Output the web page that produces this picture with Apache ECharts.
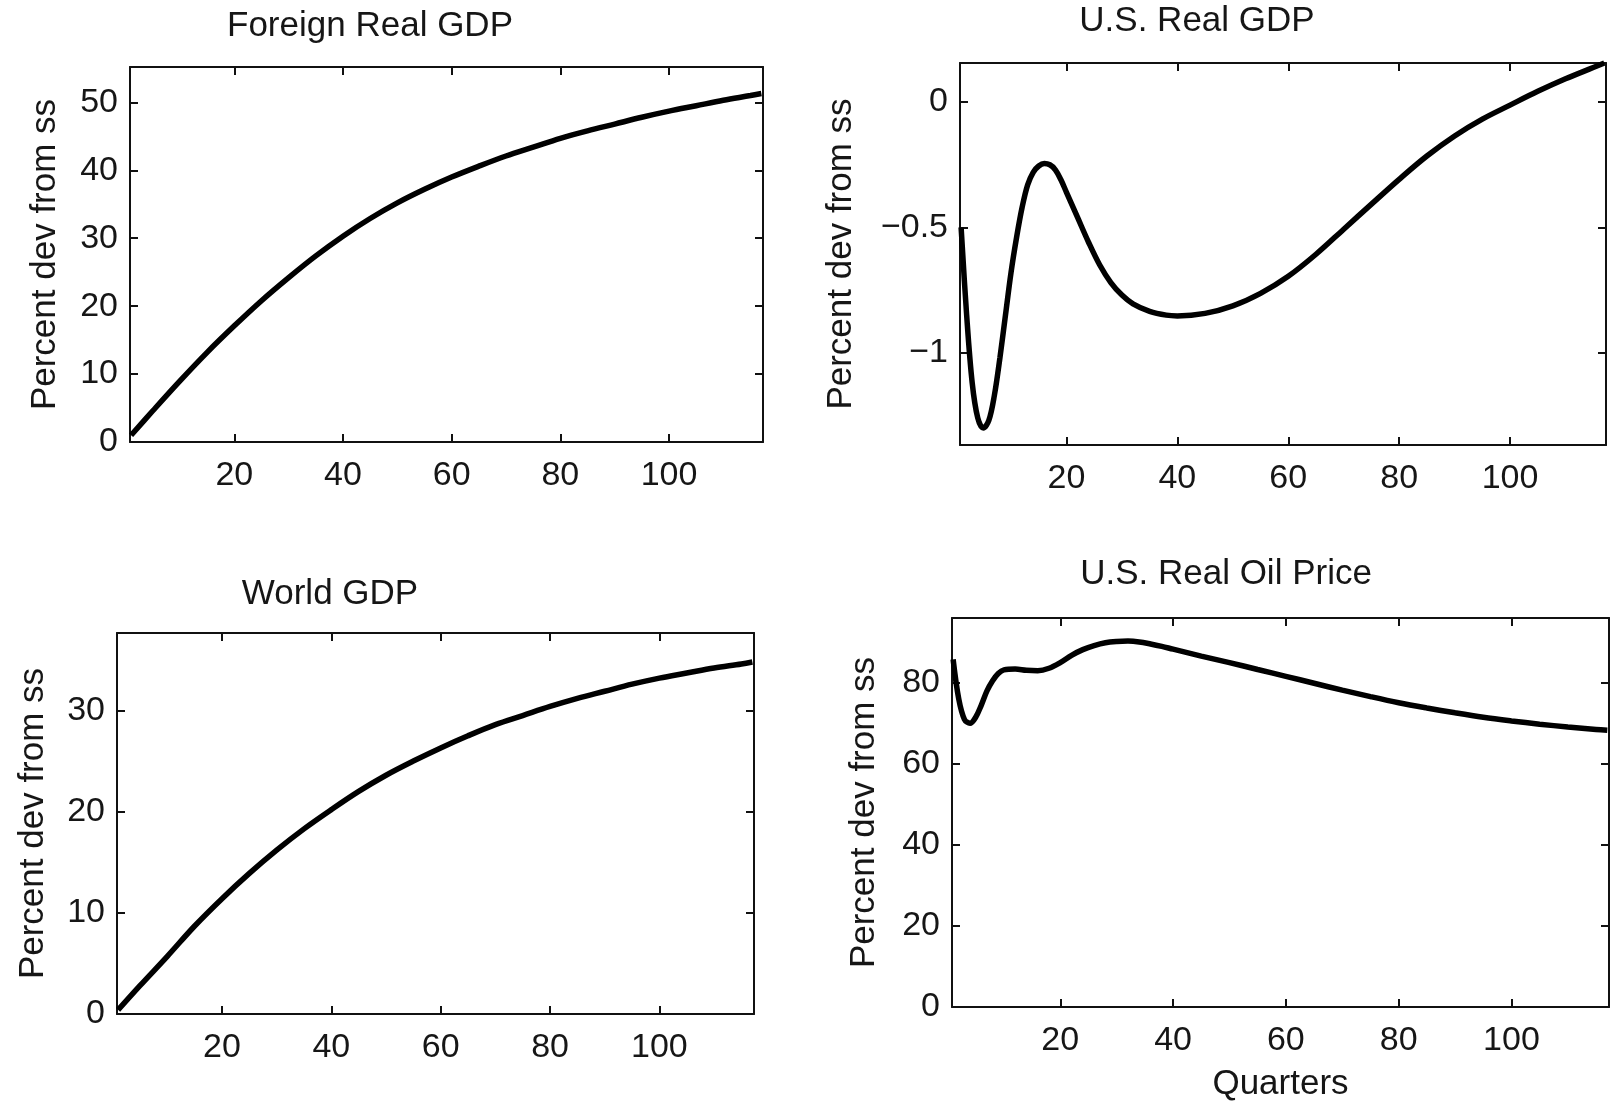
<!DOCTYPE html>
<html>
<head>
<meta charset="utf-8">
<script src="https://cdn.jsdelivr.net/npm/echarts@6/dist/echarts.min.js"></script>
<style>
html,body{margin:0;padding:0;background:#fff;}
#chart{width:1614px;height:1108px;}
</style>
</head>
<body>
<div id="chart"></div>
<script>
// ---- data (quarters, percent deviation from steady state) ----
const foreignX = [1,5,10,15,20,25,30,35,40,45,50,55,60,65,70,75,80,85,90,95,100,105,110,115,117];
const foreignY = [1,4.6,9.0,13.2,17.1,20.8,24.2,27.4,30.3,32.9,35.2,37.2,39.0,40.6,42.1,43.4,44.7,45.8,46.8,47.8,48.7,49.5,50.3,51.0,51.3];

const usGdpX = [1,2,3,4,5,6,7,8,9,10,11,12,13,14,15,16,17,18,19,20,22,24,26,28,30,32,35,38,40,45,50,55,60,65,70,75,80,85,90,95,100,105,110,115,117];
const usGdpY = [-0.5,-0.85,-1.12,-1.26,-1.30,-1.27,-1.17,-1.02,-0.85,-0.68,-0.54,-0.42,-0.33,-0.28,-0.255,-0.245,-0.25,-0.27,-0.31,-0.36,-0.46,-0.56,-0.65,-0.72,-0.77,-0.805,-0.835,-0.85,-0.853,-0.843,-0.813,-0.763,-0.695,-0.607,-0.507,-0.407,-0.308,-0.215,-0.135,-0.068,-0.012,0.043,0.093,0.138,0.156];

const worldX = [1,5,10,15,20,25,30,35,40,45,50,55,60,65,70,75,80,85,90,95,100,105,110,115,117];
const worldY = [0.4,2.8,5.7,8.7,11.4,13.9,16.2,18.3,20.2,22.0,23.6,25.0,26.3,27.5,28.6,29.5,30.4,31.2,31.9,32.6,33.2,33.7,34.2,34.6,34.8];

const oilX = [1,2,3,4,5,6,7,8,9,10,12,14,16,18,20,22,24,26,28,30,32,34,36,38,40,45,50,55,60,65,70,75,80,85,90,95,100,105,110,115,117];
const oilY = [85.8,76,71,70,71.5,74.5,78,80.5,82.3,83.2,83.4,83.1,83,83.6,85,86.8,88.2,89.2,89.9,90.2,90.3,90.1,89.6,89,88.3,86.6,85,83.3,81.6,79.9,78.2,76.6,75.1,73.8,72.6,71.5,70.6,69.8,69.1,68.5,68.3];

const xTicks = [20,40,60,80,100];
const foreignTicks = [0,10,20,30,40,50];
const usGdpTicks = [-1,-0.5,0];
const worldTicks = [0,10,20,30];
const oilTicks = [0,20,40,60,80];

const titles = ['Foreign Real GDP','U.S. Real GDP','World GDP','U.S. Real Oil Price'];
const yName = 'Percent dev from ss';
const xName = 'Quarters';

// ---- layout ----
const FONT = 'Liberation Sans, Arial, Helvetica, sans-serif';
const TXT = '#161616';
const panels = [
  {grid:{left:130, top:67, width:633, height:375}, ymin:0, ymax:55.2, yt:foreignTicks, xs:foreignX, ys:foreignY, gap:67, title:[370,26]},
  {grid:{left:960, top:63, width:646, height:382}, ymin:-1.368, ymax:0.156, yt:usGdpTicks, xs:usGdpX, ys:usGdpY, gap:101, title:[1197,21]},
  {grid:{left:117, top:633, width:637, height:381}, ymin:0, ymax:37.66, yt:worldTicks, xs:worldX, ys:worldY, gap:66, title:[330,594]},
  {grid:{left:952, top:618, width:657, height:389}, ymin:0, ymax:96, yt:oilTicks, xs:oilX, ys:oilY, gap:70, title:[1226,574]}
];

const axisLine = {show:true, onZero:false, lineStyle:{color:'#111', width:2}};
const tick = (vals)=>({show:true, inside:true, length:8, customValues:vals, lineStyle:{color:'#111', width:2}});

const option = {
  animation:false,
  backgroundColor:'#fff',
  title:[], grid:[], xAxis:[], yAxis:[], series:[]
};

panels.forEach((p,i)=>{
  option.title.push({
    text:titles[i], left:p.title[0], top:p.title[1], textAlign:'center', textVerticalAlign:'middle', padding:0,
    textStyle:{fontFamily:FONT, fontSize:35, fontWeight:'normal', color:TXT}
  });
  option.grid.push(Object.assign({containLabel:false}, p.grid));
  const fmt = v => (v<0 ? '\u2212'+Math.abs(v) : String(v));
  option.xAxis.push({
    type:'value', gridIndex:i, min:0.8, max:117.3, position:'bottom',
    axisLine:axisLine, axisTick:tick(xTicks), splitLine:{show:false},
    axisLabel:{show:true, customValues:xTicks, margin:17, fontFamily:FONT, fontSize:34, color:TXT},
    name: i===3 ? xName : '', nameLocation:'middle', nameGap:60,
    nameTextStyle:{fontFamily:FONT, fontSize:35, color:TXT}
  });
  option.xAxis.push({
    type:'value', gridIndex:i, min:0.8, max:117.3, position:'top',
    axisLine:axisLine, axisTick:tick(xTicks), splitLine:{show:false},
    axisLabel:{show:false}
  });
  option.yAxis.push({
    type:'value', gridIndex:i, min:p.ymin, max:p.ymax, position:'left',
    axisLine:axisLine, axisTick:tick(p.yt), splitLine:{show:false},
    axisLabel:{show:true, customValues:p.yt, margin:12, fontFamily:FONT, fontSize:34, color:TXT, formatter:fmt},
    name:yName, nameLocation:'middle', nameGap:p.gap,
    nameTextStyle:{fontFamily:FONT, fontSize:35, color:TXT}
  });
  option.yAxis.push({
    type:'value', gridIndex:i, min:p.ymin, max:p.ymax, position:'right',
    axisLine:axisLine, axisTick:tick(p.yt), splitLine:{show:false},
    axisLabel:{show:false}
  });
  option.series.push({
    type:'line', xAxisIndex:2*i, yAxisIndex:2*i, showSymbol:false, smooth:0.35,
    lineStyle:{color:'#000', width:5.5}, clip:false,
    data:p.xs.map((x,k)=>[x,p.ys[k]])
  });
});

const chart = echarts.init(document.getElementById('chart'), null, {renderer:'canvas'});
chart.setOption(option);
</script>
</body>
</html>
